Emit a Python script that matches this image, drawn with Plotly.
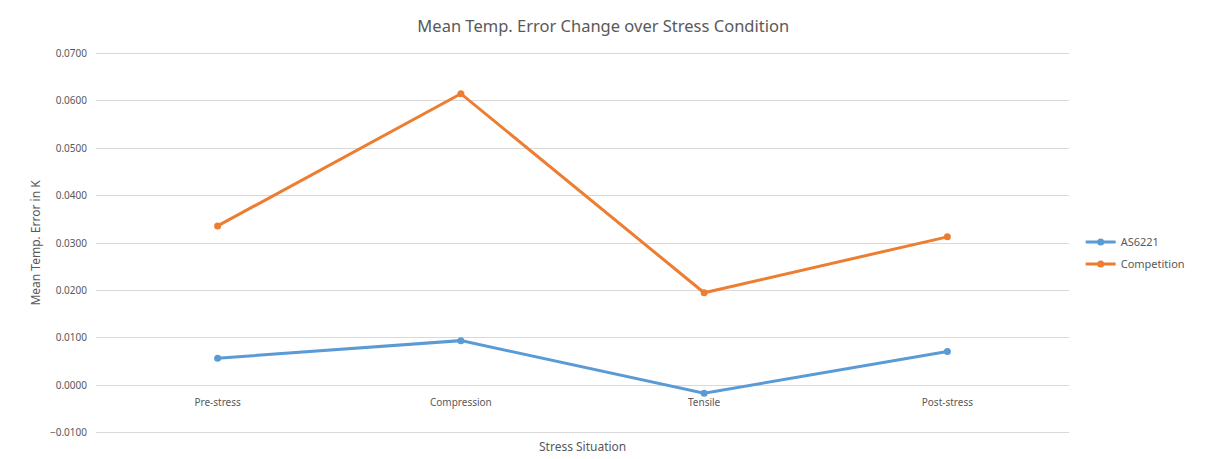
import plotly.graph_objects as go

categories = ["Pre-stress", "Compression", "Tensile", "Post-stress"]
as6221 = [0.0057, 0.0094, -0.0017, 0.0071]
competition = [0.0336, 0.0615, 0.0195, 0.0313]
y_ticks = [-0.01, 0.0, 0.01, 0.02, 0.03, 0.04, 0.05, 0.06, 0.07]

FONT = "Noto Sans"
GREY = "#595959"

fig = go.Figure()
fig.add_trace(go.Scatter(x=categories, y=as6221, name="AS6221", mode="lines+markers", legendgroup="a",
                         line=dict(color="#5B9BD5", width=3), marker=dict(size=7, color="#5B9BD5")))
fig.add_trace(go.Scatter(x=categories, y=competition, name="Competition", mode="lines+markers", legendgroup="b",
                         line=dict(color="#ED7D31", width=3), marker=dict(size=7, color="#ED7D31")))

fig.update_layout(
    width=1215, height=459,
    margin=dict(l=96, r=146, t=52, b=25),
    paper_bgcolor="white", plot_bgcolor="white",
    font=dict(family=FONT, size=11, color=GREY),
    title=dict(text="Mean Temp. Error Change over Stress Condition", x=0.4965, xanchor="center",
               y=0.943, yanchor="middle", font=dict(family=FONT, size=16.5, color=GREY)),
    showlegend=True,
    legend=dict(x=1.012, xanchor="left", y=0.474, yanchor="middle", font=dict(size=11, color=GREY),
                bgcolor="rgba(0,0,0,0)", itemwidth=30, tracegroupgap=3),
    xaxis=dict(type="category", range=[-0.5, 3.5], showgrid=False, showline=False, zeroline=False,
               ticks="", anchor="free", position=0.103, tickfont=dict(size=10, color=GREY)),
    yaxis=dict(range=[-0.0103, 0.0703], tickvals=y_ticks, tickformat=".4f", showgrid=True,
               gridcolor="#D9D9D9", gridwidth=1, zeroline=True, zerolinecolor="#D9D9D9",
               zerolinewidth=1, showline=False, ticks="", tickfont=dict(size=10, color=GREY),
               ticklabelstandoff=8,
               title=dict(text="Mean Temp. Error in K", font=dict(size=12, color=GREY), standoff=6)),
    annotations=[dict(text="Stress Situation", xref="paper", yref="paper", x=0.5, y=-0.005,
                      xanchor="center", yanchor="top", showarrow=False,
                      font=dict(size=12, color=GREY))],
)

fig.write_html("out.html", config={"displayModeBar": False},
               post_script="document.body.style.margin='0';")
